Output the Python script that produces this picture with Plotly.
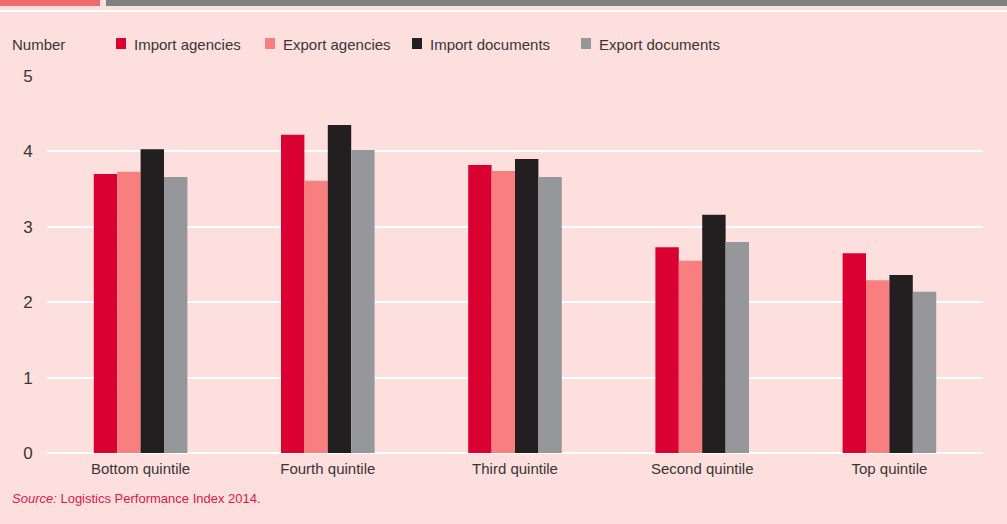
import plotly.graph_objects as go

categories = ["Bottom quintile", "Fourth quintile", "Third quintile", "Second quintile", "Top quintile"]
series_names = ["Import agencies", "Export agencies", "Import documents", "Export documents"]
import_agencies = [3.70, 4.22, 3.82, 2.73, 2.65]
export_agencies = [3.73, 3.61, 3.74, 2.55, 2.29]
import_documents = [4.03, 4.35, 3.90, 3.16, 2.36]
export_documents = [3.66, 4.02, 3.66, 2.80, 2.14]
y_ticks = [0, 1, 2, 3, 4, 5]

colors = ["#DB0032", "#F87E80", "#231F20", "#96979B"]
series_values = [import_agencies, export_agencies, import_documents, export_documents]

FONT = "Liberation Sans, Arial, sans-serif"
TXT = "#3A3637"
BG = "#FDDFDE"

fig = go.Figure()
for name, vals, col in zip(series_names, series_values, colors):
    fig.add_trace(go.Bar(x=categories, y=vals, name=name, marker=dict(color=col, line=dict(width=0)),
                         showlegend=False))

fig.update_layout(
    width=1007, height=524,
    margin=dict(l=47, r=24, t=76, b=71),
    paper_bgcolor=BG, plot_bgcolor=BG,
    barmode="group", bargap=0.5, bargroupgap=0,
    font=dict(family=FONT, size=15, color=TXT),
    xaxis=dict(showgrid=False, showline=False, zeroline=False, ticks="outside", ticklen=2,
               tickcolor="rgba(0,0,0,0)", tickfont=dict(size=15, color=TXT)),
    yaxis=dict(range=[0, 5], tickvals=y_ticks, showgrid=True, gridcolor="#FFFFFF", gridwidth=2,
               zeroline=True, zerolinecolor="#FFFFFF", zerolinewidth=2, showline=False,
               ticks="outside", ticklen=10, tickcolor="rgba(0,0,0,0)", tickfont=dict(size=17, color=TXT)),
)

# top decorative band
fig.add_shape(type="rect", xref="paper", yref="paper", x0=-47/936, x1=(100-47)/936,
              y0=1 + (76-6)/377, y1=1 + 76/377, fillcolor="#F26A6E", line_width=0, layer="above")
fig.add_shape(type="rect", xref="paper", yref="paper", x0=(106-47)/936, x1=(1007-47)/936,
              y0=1 + (76-6)/377, y1=1 + 76/377, fillcolor="#808083", line_width=0, layer="above")
fig.add_shape(type="rect", xref="paper", yref="paper", x0=-47/936, x1=(1007-47)/936,
              y0=1 + (76-12)/377, y1=1 + (76-10)/377, fillcolor="#FFFFFF", line_width=0, layer="above")

# legend (manual)
fig.add_annotation(text="Number", xref="paper", yref="paper", x=-37/936, y=1 + (76-44)/377,
                   xanchor="left", yanchor="middle", showarrow=False, font=dict(size=15, color=TXT))
legend_x = [116, 265, 412, 581]
for lx, name, col in zip(legend_x, series_names, colors):
    fig.add_shape(type="rect", xref="paper", yref="paper", x0=(lx-47)/936, x1=(lx+10-47)/936,
                  y0=1 + (76-49)/377, y1=1 + (76-38)/377, fillcolor=col, line_width=0)
    fig.add_annotation(text=name, xref="paper", yref="paper", x=(lx+16-47)/936, y=1 + (76-44)/377,
                       xanchor="left", yanchor="middle", showarrow=False, font=dict(size=15, color=TXT))

fig.add_annotation(text="<i>Source:</i> Logistics Performance Index 2014.", xref="paper", yref="paper",
                   x=-37/936, y=-(498-453)/377, xanchor="left", yanchor="middle", showarrow=False,
                   font=dict(size=13, color="#D9174B"))

fig.write_html("out.html", config={"displayModeBar": False},
               post_script="document.body.style.margin='0';document.body.style.padding='0';")
